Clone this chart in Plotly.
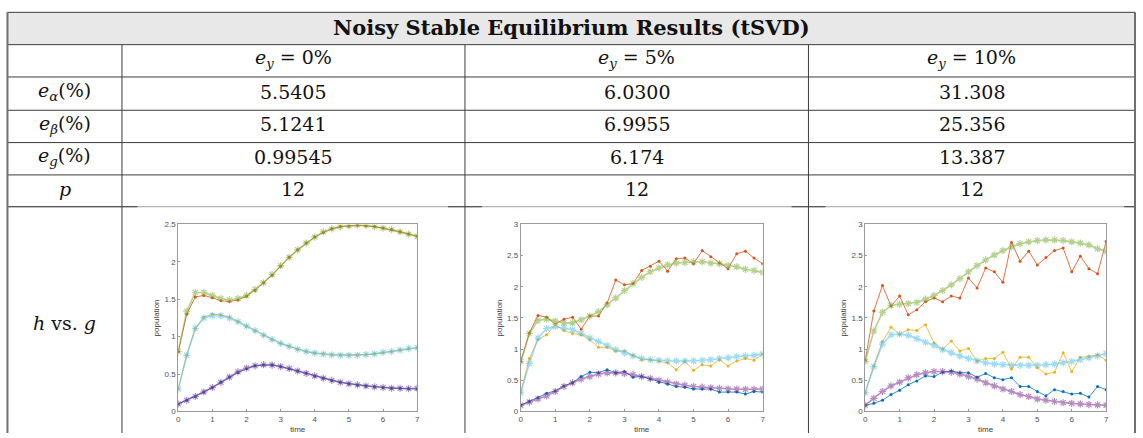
import plotly.graph_objects as go

W, H = 1143, 438

# ---------------- data ----------------
t = [0, 0.25, 0.5, 0.75, 1, 1.25, 1.5, 1.75, 2, 2.25, 2.5, 2.75, 3, 3.25, 3.5,
     3.75, 4, 4.25, 4.5, 4.75, 5, 5.25, 5.5, 5.75, 6, 6.25, 6.5, 6.75, 7]

title = "Noisy Stable Equilibrium Results (tSVD)"
col_headers = ["<i>e</i><sub><i>y</i></sub> = 0%",
               "<i>e</i><sub><i>y</i></sub> = 5%",
               "<i>e</i><sub><i>y</i></sub> = 10%"]
row_labels = ["<i>e</i><sub><i>α</i></sub>(%)",
              "<i>e</i><sub><i>β</i></sub>(%)",
              "<i>e</i><sub><i>g</i></sub>(%)",
              "<i>p</i>"]
e_alpha = ["5.5405", "6.0300", "31.308"]
e_beta = ["5.1241", "6.9955", "25.356"]
e_g = ["0.99545", "6.174", "13.387"]
p_vals = ["12", "12", "12"]
plot_row_label = "<i>h</i> vs. <i>g</i>"

# e_y = 0%
h1_0 = [0.10, 0.15, 0.20, 0.26, 0.32, 0.39, 0.46, 0.52, 0.57, 0.61, 0.62, 0.62, 0.60, 0.57, 0.54,
        0.51, 0.475, 0.445, 0.415, 0.39, 0.37, 0.355, 0.34, 0.33, 0.32, 0.31, 0.31, 0.305, 0.30]
h2_0 = [0.80, 1.30, 1.53, 1.55, 1.52, 1.48, 1.47, 1.49, 1.54, 1.62, 1.72, 1.82, 1.94, 2.06, 2.16,
        2.25, 2.33, 2.39, 2.44, 2.47, 2.48, 2.49, 2.48, 2.47, 2.45, 2.43, 2.40, 2.37, 2.34]
h3_0 = [0.30, 0.75, 1.11, 1.26, 1.30, 1.29, 1.26, 1.20, 1.14, 1.08, 1.02, 0.96, 0.91, 0.87, 0.83,
        0.80, 0.78, 0.77, 0.76, 0.755, 0.755, 0.755, 0.76, 0.77, 0.785, 0.80, 0.82, 0.84, 0.85]
g1_0 = [0.10, 0.15, 0.20, 0.26, 0.32, 0.39, 0.46, 0.53, 0.58, 0.61, 0.625, 0.62, 0.60, 0.575, 0.54,
        0.51, 0.475, 0.445, 0.415, 0.39, 0.37, 0.355, 0.34, 0.33, 0.32, 0.31, 0.31, 0.305, 0.31]
g2_0 = [0.80, 1.34, 1.59, 1.59, 1.55, 1.51, 1.49, 1.51, 1.55, 1.63, 1.72, 1.83, 1.95, 2.06, 2.16,
        2.25, 2.33, 2.40, 2.44, 2.47, 2.48, 2.49, 2.49, 2.47, 2.45, 2.43, 2.40, 2.37, 2.34]
g3_0 = [0.30, 0.75, 1.11, 1.25, 1.28, 1.28, 1.25, 1.20, 1.14, 1.08, 1.02, 0.96, 0.91, 0.87, 0.83,
        0.80, 0.78, 0.765, 0.755, 0.75, 0.75, 0.75, 0.76, 0.77, 0.79, 0.80, 0.82, 0.84, 0.85]

# e_y = 5%
h1_5 = [0.10, 0.16, 0.22, 0.29, 0.33, 0.41, 0.46, 0.56, 0.63, 0.62, 0.67, 0.62, 0.64, 0.55, 0.56,
        0.52, 0.47, 0.44, 0.40, 0.39, 0.36, 0.36, 0.36, 0.31, 0.31, 0.31, 0.28, 0.32, 0.31]
h2_5 = [0.80, 1.26, 1.54, 1.51, 1.40, 1.48, 1.51, 1.32, 1.53, 1.53, 1.74, 2.11, 2.03, 2.05, 2.26,
        2.33, 2.41, 2.25, 2.45, 2.46, 2.37, 2.58, 2.48, 2.38, 2.29, 2.53, 2.57, 2.46, 2.37]
h3_5 = [0.30, 0.85, 1.15, 1.23, 1.39, 1.30, 1.25, 1.23, 1.15, 1.03, 1.03, 0.97, 0.97, 0.90, 0.83,
        0.83, 0.81, 0.78, 0.67, 0.80, 0.66, 0.75, 0.73, 0.83, 0.73, 0.81, 0.85, 0.82, 0.92]
g1_5 = [0.10, 0.15, 0.20, 0.25, 0.32, 0.40, 0.46, 0.52, 0.56, 0.60, 0.62, 0.62, 0.61, 0.59, 0.56,
        0.53, 0.50, 0.47, 0.44, 0.42, 0.40, 0.39, 0.38, 0.37, 0.36, 0.355, 0.355, 0.355, 0.36]
g2_5 = [0.80, 1.25, 1.46, 1.48, 1.45, 1.42, 1.42, 1.47, 1.53, 1.60, 1.71, 1.82, 1.94, 2.05, 2.15,
        2.24, 2.30, 2.35, 2.38, 2.39, 2.40, 2.40, 2.38, 2.37, 2.34, 2.32, 2.28, 2.26, 2.23]
g3_5 = [0.30, 0.77, 1.18, 1.33, 1.36, 1.34, 1.31, 1.25, 1.18, 1.12, 1.06, 0.99, 0.94, 0.89, 0.85,
        0.83, 0.82, 0.81, 0.81, 0.81, 0.81, 0.82, 0.83, 0.85, 0.86, 0.88, 0.89, 0.90, 0.92]

# e_y = 10%
h1_10 = [0.10, 0.13, 0.18, 0.27, 0.34, 0.43, 0.49, 0.57, 0.56, 0.63, 0.65, 0.62, 0.62, 0.55, 0.61,
         0.54, 0.51, 0.54, 0.40, 0.40, 0.32, 0.25, 0.35, 0.32, 0.28, 0.29, 0.23, 0.40, 0.35]
h2_10 = [0.82, 1.61, 2.02, 1.69, 1.85, 1.55, 1.63, 1.76, 1.82, 1.76, 1.85, 1.82, 2.14, 1.98, 2.30,
         2.24, 2.07, 2.71, 2.41, 2.57, 2.35, 2.47, 2.58, 2.62, 2.24, 2.49, 2.29, 2.21, 2.73]
h3_10 = [0.30, 0.73, 1.12, 1.35, 1.24, 1.31, 1.30, 1.39, 1.10, 1.00, 1.13, 0.97, 1.01, 0.81, 0.85,
         0.85, 0.95, 0.68, 0.87, 0.87, 0.70, 0.60, 0.63, 0.94, 0.64, 0.87, 0.88, 0.91, 0.82]
g1_10 = [0.10, 0.21, 0.32, 0.41, 0.47, 0.54, 0.59, 0.62, 0.64, 0.64, 0.63, 0.60, 0.56, 0.52, 0.46,
         0.41, 0.36, 0.32, 0.27, 0.24, 0.20, 0.18, 0.16, 0.14, 0.13, 0.12, 0.11, 0.105, 0.10]
g2_10 = [0.80, 1.29, 1.59, 1.70, 1.72, 1.73, 1.75, 1.80, 1.86, 1.94, 2.03, 2.13, 2.24, 2.34, 2.43,
         2.51, 2.58, 2.64, 2.69, 2.72, 2.74, 2.75, 2.75, 2.74, 2.72, 2.70, 2.67, 2.61, 2.57]
g3_10 = [0.30, 0.72, 1.08, 1.23, 1.24, 1.22, 1.17, 1.11, 1.06, 0.99, 0.94, 0.89, 0.85, 0.81, 0.78,
         0.76, 0.75, 0.74, 0.74, 0.74, 0.74, 0.75, 0.76, 0.78, 0.80, 0.83, 0.86, 0.89, 0.93]

panels = [
    dict(h=[h1_0, h2_0, h3_0], g=[g1_0, g2_0, g3_0], ymax=2.5),
    dict(h=[h1_5, h2_5, h3_5], g=[g1_5, g2_5, g3_5], ymax=3),
    dict(h=[h1_10, h2_10, h3_10], g=[g1_10, g2_10, g3_10], ymax=3),
]

h_colors = ["#0072BD", "#D95319", "#EDB120"]
g_colors = ["#7E2F8E", "#77AC30", "#4DBEEE"]

# ---------------- geometry (pixels) ----------------
def px(x):
    return x / W


def py(y):
    return 1 - y / H


TL, TR = 5.5, 1138.0
col_x = [TL, 120.5, 465.0, 810.0, TR]
row_y = [8.5, 41.5, 74.5, 108.5, 141.5, 174.5, 207.0]
axes_x = [(177, 417), (521, 764), (867, 1109)]
axes_y = (225, 416)

fig = go.Figure()
layout_axes = {}
sans = "Liberation Sans"

for i, pan in enumerate(panels):
    n = "" if i == 0 else str(i + 1)
    xa, ya = "x" + n, "y" + n
    for k in range(3):
        fig.add_trace(go.Scatter(
            x=t, y=pan["h"][k], xaxis=xa, yaxis=ya, mode="lines+markers",
            line=dict(color=h_colors[k], width=0.8),
            marker=dict(color=h_colors[k], size=3, symbol="circle"),
            showlegend=False, hoverinfo="skip"))
    for k in range(3):
        fig.add_trace(go.Scatter(
            x=t, y=pan["g"][k], xaxis=xa, yaxis=ya, mode="lines+markers",
            line=dict(color=g_colors[k], width=1.6), opacity=0.55,
            marker=dict(color=g_colors[k], size=6, symbol="asterisk-open",
                        line=dict(color=g_colors[k], width=1.2)),
            showlegend=False, hoverinfo="skip"))

    x0, x1 = axes_x[i]
    common = dict(showline=True, linecolor="#9a9a9a", linewidth=1, mirror=True,
                  ticks="inside", ticklen=2, tickcolor="#9a9a9a", showgrid=False,
                  zeroline=False, tickfont=dict(family=sans, size=8, color="#505050"))
    layout_axes["xaxis" + n] = dict(
        common, domain=[px(x0), px(x1)], range=[0, 7], dtick=1, anchor=ya,
        title=dict(text="time", font=dict(family=sans, size=8, color="#404040"),
                   standoff=3))
    layout_axes["yaxis" + n] = dict(
        common, domain=[py(axes_y[1]), py(axes_y[0])], range=[0, pan["ymax"]], dtick=0.5,
        anchor=xa, title=dict(text="population",
                              font=dict(family=sans, size=8, color="#404040"),
                              standoff=3))

# ---------------- table lines ----------------
shapes = []
shapes.append(dict(type="rect", xref="paper", yref="paper", x0=px(TL), x1=px(TR),
                   y0=py(row_y[1]), y1=py(row_y[0]), fillcolor="#e8e8e8",
                   line=dict(width=0), layer="below"))
dark = "#3c3c3c"
for y in row_y[:-1]:
    shapes.append(dict(type="line", xref="paper", yref="paper", x0=px(TL), x1=px(TR),
                       y0=py(y), y1=py(y), line=dict(color=dark, width=1)))
shapes.append(dict(type="line", xref="paper", yref="paper", x0=px(TL), x1=px(TR),
                   y0=py(row_y[-1]), y1=py(row_y[-1]), line=dict(color="#a0a0a0", width=1)))
for a, b in [(TL, 136), (448, 482), (793, 827), (1127, TR)]:
    shapes.append(dict(type="line", xref="paper", yref="paper", x0=px(a), x1=px(b),
                       y0=py(row_y[-1]), y1=py(row_y[-1]), line=dict(color=dark, width=1)))
for x in [TL, TR]:
    shapes.append(dict(type="line", xref="paper", yref="paper", x0=px(x), x1=px(x),
                       y0=py(row_y[0]), y1=py(H), line=dict(color="#6e6e6e", width=2)))
for x in col_x[1:-1]:
    shapes.append(dict(type="line", xref="paper", yref="paper", x0=px(x), x1=px(x),
                       y0=py(row_y[1]), y1=py(H), line=dict(color=dark, width=1)))

# ---------------- table text ----------------
serif = "DejaVu Serif"
annots = []


def cell(text, xc, yc, size=19, bold=False):
    annots.append(dict(text=("<b>%s</b>" % text) if bold else text,
                       xref="paper", yref="paper", x=px(xc), y=py(yc),
                       xanchor="center", yanchor="middle", showarrow=False,
                       font=dict(family=serif, size=size, color="#111111")))


cell(title, (TL + TR) / 2, 24, size=21, bold=True)
centers = [(col_x[j] + col_x[j + 1]) / 2 for j in range(4)]
row_mid = [(row_y[r] + row_y[r + 1]) / 2 - 2 for r in range(6)]
for j, txt in enumerate(col_headers):
    cell(txt, centers[j + 1], row_mid[1])
for r, lab in enumerate(row_labels):
    cell(lab, centers[0], row_mid[r + 2])
for r, vals in enumerate([e_alpha, e_beta, e_g, p_vals]):
    for j, v in enumerate(vals):
        cell(v, centers[j + 1], row_mid[r + 2])
cell(plot_row_label, centers[0], 326)

fig.update_layout(
    width=W, height=H, margin=dict(l=0, r=0, t=0, b=0),
    paper_bgcolor="white", plot_bgcolor="white",
    shapes=shapes, annotations=annots, showlegend=False, **layout_axes)

fig.write_html("out.html")
